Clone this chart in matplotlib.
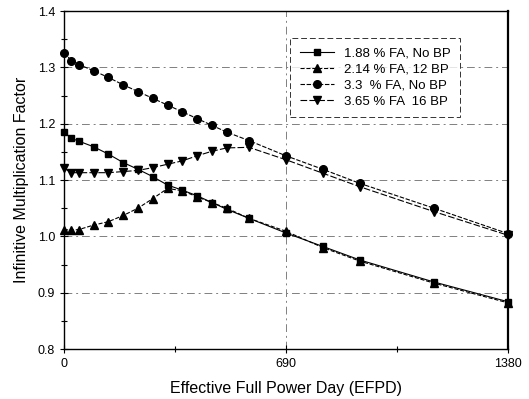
import numpy as np
import matplotlib
matplotlib.use('Agg')
import matplotlib.pyplot as plt
from matplotlib.ticker import MultipleLocator, FixedLocator

plt.rcParams['font.family'] = ['Liberation Sans', 'DejaVu Sans']

# burnup steps (EFPD)
days = [0, 23, 46, 92, 138, 184, 230, 276, 322, 368, 414, 460, 506, 575, 690, 805, 920, 1150, 1380]

kinf_188_nobp = [1.185, 1.174, 1.169, 1.159, 1.146, 1.131, 1.119, 1.106, 1.091, 1.082,
                 1.072, 1.060, 1.048, 1.032, 1.006, 0.982, 0.958, 0.919, 0.884]
kinf_214_12bp = [1.012, 1.011, 1.012, 1.020, 1.026, 1.037, 1.050, 1.067, 1.085, 1.081,
                 1.070, 1.060, 1.050, 1.032, 1.009, 0.980, 0.956, 0.917, 0.882]
kinf_33_nobp = [1.326, 1.312, 1.305, 1.294, 1.282, 1.269, 1.257, 1.245, 1.233, 1.221,
                1.209, 1.197, 1.185, 1.170, 1.143, 1.119, 1.094, 1.050, 1.005]
kinf_365_16bp = [1.121, 1.113, 1.113, 1.113, 1.113, 1.115, 1.117, 1.122, 1.128, 1.134,
                 1.143, 1.151, 1.157, 1.158, 1.136, 1.112, 1.088, 1.044, 1.002]

labels = ['1.88 % FA, No BP', '2.14 % FA, 12 BP', '3.3  % FA, No BP', '3.65 % FA  16 BP']

fig = plt.figure(figsize=(5.29, 3.99), dpi=100)
ax = fig.add_axes([0.121, 0.1253, 0.839, 0.8471])

kw = dict(color='black', lw=0.8, clip_on=False, zorder=3)
ax.plot(days, kinf_188_nobp, '-', marker='s', ms=5, label=labels[0], **kw)
ax.plot(days, kinf_214_12bp, '--', marker='^', ms=5.5, label=labels[1], **kw)
ax.plot(days, kinf_33_nobp, linestyle=(0, (4, 1.5)), marker='o', ms=5.5, label=labels[2], **kw)
ax.plot(days, kinf_365_16bp, linestyle=(0, (6, 2)), marker='v', ms=5.5, label=labels[3], **kw)

ax.set_xlim(0, 1380)
ax.set_ylim(0.8, 1.4)
ax.xaxis.set_major_locator(FixedLocator([0, 690, 1380]))
ax.xaxis.set_minor_locator(FixedLocator([345, 1035]))
ax.yaxis.set_major_locator(MultipleLocator(0.1))
ax.yaxis.set_minor_locator(MultipleLocator(0.05))
ax.yaxis.set_major_formatter(plt.FormatStrFormatter('%.1f'))
ax.tick_params(which='both', direction='inout', labelsize=9, width=0.8)
ax.tick_params(which='major', length=6)
ax.tick_params(which='minor', length=4)

ax.grid(True, which='major', color='gray', linestyle=(0, (8, 4, 2, 4)), lw=0.7)
for s in ax.spines.values():
    s.set_linewidth(1.0)
ax.spines['right'].set_linewidth(1.6)

ax.set_xlabel('Effective Full Power Day (EFPD)', fontsize=11.5, labelpad=8)
ax.set_ylabel('Infinitive Multiplication Factor', fontsize=11.5, labelpad=6)

leg = ax.legend(loc='upper left', bbox_to_anchor=(0.51, 0.92), fontsize=9.5, frameon=True,
                fancybox=False, edgecolor='black', handlelength=2.6, borderpad=0.7,
                labelspacing=0.3, handletextpad=0.8, borderaxespad=0)
leg.get_frame().set_linewidth(0.7)
leg.get_frame().set_linestyle((0, (6, 3)))

fig.savefig('out.png', dpi=100)
